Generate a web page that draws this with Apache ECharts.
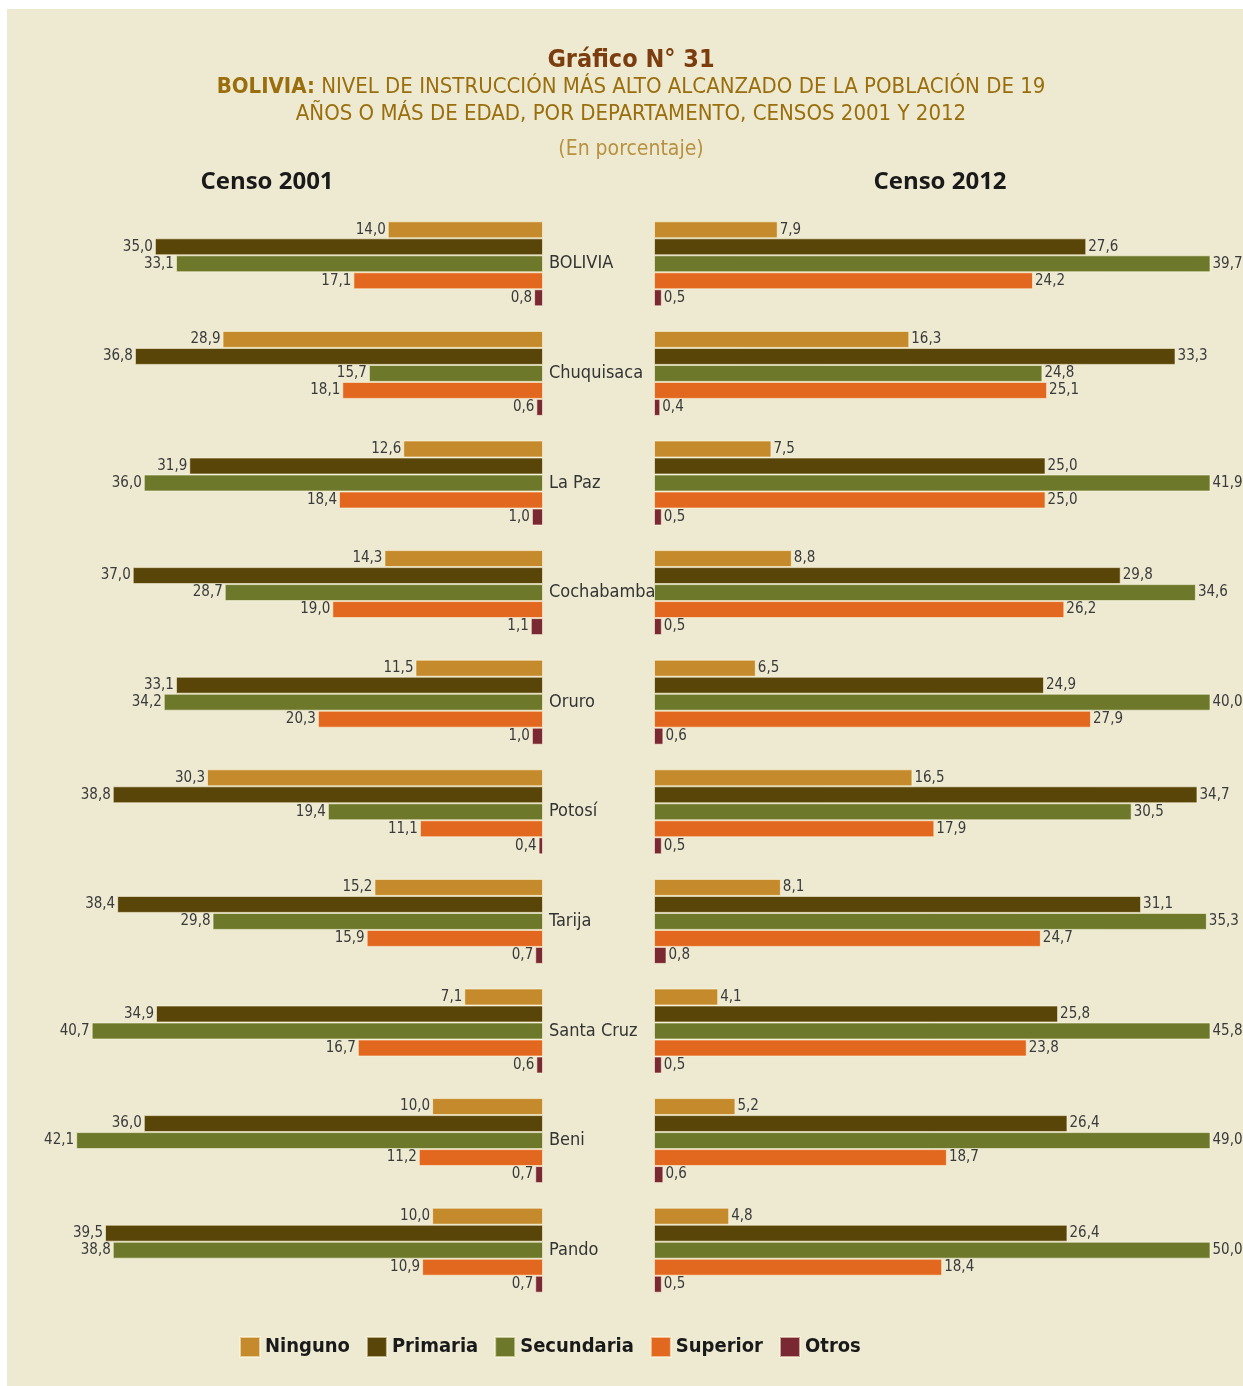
<!DOCTYPE html>
<html>
<head>
<meta charset="utf-8">
<script src="https://cdn.jsdelivr.net/npm/echarts@6/dist/echarts.min.js"></script>
<style>
html,body{margin:0;padding:0;background:#ffffff;}
#c{width:1243px;height:1386px;}
</style>
</head>
<body>
<div id="c"></div>
<script>
const categories = ['BOLIVIA','Chuquisaca','La Paz','Cochabamba','Oruro','Potosí','Tarija','Santa Cruz','Beni','Pando'];
const seriesNames = ['Ninguno','Primaria','Secundaria','Superior','Otros'];
const colors = ['#c48a2c','#5a4509','#6d782b','#e2671f','#7a2832'];

const ninguno2001    = [14.0, 28.9, 12.6, 14.3, 11.5, 30.3, 15.2, 7.1, 10.0, 10.0];
const primaria2001   = [35.0, 36.8, 31.9, 37.0, 33.1, 38.8, 38.4, 34.9, 36.0, 39.5];
const secundaria2001 = [33.1, 15.7, 36.0, 28.7, 34.2, 19.4, 29.8, 40.7, 42.1, 38.8];
const superior2001   = [17.1, 18.1, 18.4, 19.0, 20.3, 11.1, 15.9, 16.7, 11.2, 10.9];
const otros2001      = [0.8, 0.6, 1.0, 1.1, 1.0, 0.4, 0.7, 0.6, 0.7, 0.7];

const ninguno2012    = [7.9, 16.3, 7.5, 8.8, 6.5, 16.5, 8.1, 4.1, 5.2, 4.8];
const primaria2012   = [27.6, 33.3, 25.0, 29.8, 24.9, 34.7, 31.1, 25.8, 26.4, 26.4];
const secundaria2012 = [39.7, 24.8, 41.9, 34.6, 40.0, 30.5, 35.3, 45.8, 49.0, 50.0];
const superior2012   = [24.2, 25.1, 25.0, 26.2, 27.9, 17.9, 24.7, 23.8, 18.7, 18.4];
const otros2012      = [0.5, 0.4, 0.5, 0.5, 0.6, 0.5, 0.8, 0.5, 0.6, 0.5];

const data2001 = [ninguno2001, primaria2001, secundaria2001, superior2001, otros2001];
const data2012 = [ninguno2012, primaria2012, secundaria2012, superior2012, otros2012];

const NARROW = "'Liberation Sans Narrow', 'DejaVu Sans Condensed', 'Noto Sans', sans-serif";
const fmt = p => p.value.toFixed(1).replace('.', ',');

const chart = echarts.init(document.getElementById('c'), null, {renderer: 'canvas'});

function mkSeries(dataArr, gridIdx, pos) {
  return dataArr.map((d, i) => ({
    name: seriesNames[i],
    type: 'bar',
    xAxisIndex: gridIdx,
    yAxisIndex: gridIdx,
    data: d,
    barWidth: 17,
    barGap: '0%',
    clip: true,
    itemStyle: {color: colors[i], borderColor: 'rgba(255,250,225,0.6)', borderWidth: 1},
    label: {
      show: true, position: pos, distance: 2,
      formatter: fmt, color: '#3a3a3a', fontFamily: NARROW, fontSize: 15
    },
    emphasis: {disabled: true},
    animation: false
  }));
}

const hiddenAxis = {
  axisLine: {show: false}, axisTick: {show: false},
  splitLine: {show: false}, axisLabel: {show: false}
};

const option = {
  backgroundColor: '#ffffff',
  animation: false,
  graphic: [
    {type: 'rect', shape: {x: 7, y: 9, width: 1236, height: 1377}, style: {fill: '#eeead2'}, z: -10},
    {type: 'text', x: 631, y: 48, style: {
      text: 'Gráfico N° 31', textAlign: 'center', fill: '#7b3c0e', font: "bold 25px " + NARROW}},
    {type: 'text', x: 631, y: 76, style: {
      text: '{b|BOLIVIA:} NIVEL DE INSTRUCCIÓN MÁS ALTO ALCANZADO DE LA POBLACIÓN DE 19',
      textAlign: 'center', fill: '#9a6e0c', font: "22px " + NARROW,
      rich: {b: {fontWeight: 'bold', fill: '#9a6e0c', fontSize: 22, fontFamily: NARROW}}}},
    {type: 'text', x: 631, y: 103, style: {
      text: 'AÑOS O MÁS DE EDAD, POR DEPARTAMENTO, CENSOS 2001 Y 2012',
      textAlign: 'center', fill: '#9a6e0c', font: "22px " + NARROW}},
    {type: 'text', x: 631, y: 139, style: {
      text: '(En porcentaje)', textAlign: 'center', fill: '#b8913e', font: "21px " + NARROW}},
    {type: 'text', x: 267, y: 170, style: {
      text: 'Censo 2001', textAlign: 'center', fill: '#1a1a1a', font: "bold 24px 'Open Sans', sans-serif"}},
    {type: 'text', x: 940, y: 170, style: {
      text: 'Censo 2012', textAlign: 'center', fill: '#1a1a1a', font: "bold 24px 'Open Sans', sans-serif"}}
  ],
  legend: {
    data: seriesNames,
    left: 234, top: 1331,
    itemWidth: 20, itemHeight: 20, itemGap: 16,
    icon: 'rect',
    selectedMode: false,
    textStyle: {color: '#1a1a1a', fontFamily: NARROW, fontWeight: 'bold', fontSize: 20}
  },
  grid: [
    {left: 44, width: 499, top: 209, height: 1096},
    {left: 654, width: 556, top: 209, height: 1096}
  ],
  xAxis: [
    Object.assign({type: 'value', gridIndex: 0, min: 0, max: 45, inverse: true}, hiddenAxis),
    Object.assign({type: 'value', gridIndex: 1, min: 0, max: 35.5}, hiddenAxis)
  ],
  yAxis: [
    {type: 'category', gridIndex: 0, data: categories, inverse: true, position: 'right',
     axisLine: {show: false}, axisTick: {show: false},
     axisLabel: {show: true, align: 'left', margin: 6, color: '#333333', fontFamily: NARROW, fontSize: 18}},
    {type: 'category', gridIndex: 1, data: categories, inverse: true,
     axisLine: {show: false}, axisTick: {show: false}, axisLabel: {show: false}}
  ],
  series: mkSeries(data2001, 0, 'left').concat(mkSeries(data2012, 1, 'right'))
};
chart.setOption(option);
</script>
</body>
</html>
